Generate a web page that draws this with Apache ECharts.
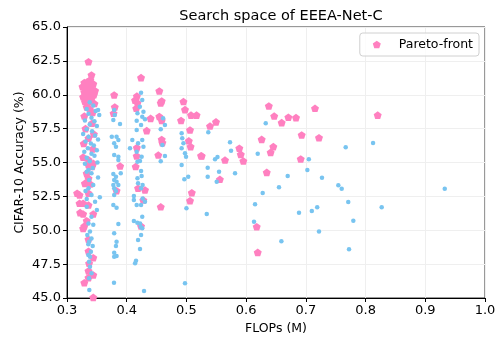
<!DOCTYPE html>
<html>
<head>
<meta charset="utf-8">
<script src="https://cdn.jsdelivr.net/npm/echarts@6/dist/echarts.min.js"></script>
<style>
html,body{margin:0;padding:0;background:#fff;}
#chart{width:499px;height:341px;}
</style>
</head>
<body>
<div id="chart"></div>
<script>
const chartTitle = 'Search space of EEEA-Net-C';
const xAxisName = 'FLOPs (M)';
const yAxisName = 'CIFAR-10 Accuracy (%)';
const legendLabel = 'Pareto-front';

// [FLOPs (M), accuracy (%)] of all sampled architectures
const searchSpace = [
  [0.338,59.45],[0.344,59.2],[0.333,58.95],[0.348,58.8],[0.352,58.87],[0.354,58.5],[0.336,58.6],[0.341,58.3],[0.330,58.1],[0.346,58.05],
  [0.338,57.8],[0.350,57.7],[0.333,57.45],[0.342,57.3],[0.327,57.1],[0.347,57.0],[0.336,56.9],[0.352,56.7],[0.331,56.55],[0.340,56.4],
  [0.345,56.25],[0.335,56.05],[0.350,55.9],[0.329,55.8],[0.341,55.65],[0.346,55.5],[0.333,55.35],[0.338,55.1],[0.351,55.0],[0.330,54.9],
  [0.343,54.6],[0.336,54.45],[0.333,54.32],[0.341,54.2],[0.352,53.9],[0.337,53.7],[0.344,53.34],[0.336,53.1],[0.331,52.9],[0.355,52.43],
  [0.341,52.6],[0.347,52.1],[0.333,52.3],[0.350,51.5],[0.333,51.73],[0.341,51.0],[0.336,50.5],[0.344,50.4],[0.3385,49.9],[0.334,49.65],
  [0.341,49.4],[0.337,49.16],[0.343,48.84],[0.3357,48.96],[0.340,48.42],[0.3357,48.17],[0.3385,48.05],[0.337,47.68],[0.3385,47.31],[0.341,46.82],
  [0.337,46.45],[0.3374,45.59],
  [0.379,58.87],[0.380,58.5],[0.3776,58.14],[0.3888,57.84],[0.375,56.9],[0.383,56.9],[0.379,56.42],[0.382,56.17],[0.379,55.55],[0.386,55.43],
  [0.386,56.66],[0.386,55.18],[0.3776,54.15],[0.382,53.95],[0.390,54.2],[0.379,53.7],[0.383,53.58],[0.3776,53.34],[0.386,53.34],[0.379,53.1],
  [0.382,52.9],[0.379,52.6],[0.3776,51.86],[0.383,51.66],[0.386,50.46],[0.379,49.77],[0.383,49.16],[0.382,48.84],[0.379,48.34],[0.383,48.1],
  [0.379,48.05],[0.3787,46.13],
  [0.424,60.15],[0.426,59.61],[0.422,59.12],[0.428,58.75],[0.418,58.63],[0.426,58.38],[0.4306,58.19],[0.4167,58.09],[0.424,57.77],[0.4167,57.4],
  [0.4094,56.66],[0.426,56.66],[0.419,56.42],[0.428,56.17],[0.4167,55.8],[0.425,55.43],[0.418,55.06],[0.4055,56.05],[0.4223,55.11],[0.424,54.37],
  [0.425,54.0],[0.418,53.83],[0.419,53.46],[0.4266,53.34],[0.424,53.1],[0.412,52.53],[0.412,52.23],[0.4266,52.35],[0.4306,52.1],[0.4167,51.86],
  [0.424,51.86],[0.426,51.0],[0.412,50.68],[0.4178,50.56],[0.4223,50.5],[0.4234,50.26],[0.426,50.14],[0.424,49.65],[0.419,49.28],[0.4223,48.62],
  [0.4156,47.75],[0.414,47.56],[0.429,45.52],
  [0.461,58.26],[0.464,57.77],[0.457,57.45],[0.4597,56.29],[0.464,55.48],[0.457,55.1],[0.492,57.15],[0.493,56.79],[0.495,56.42],[0.492,56.05],
  [0.4976,55.68],[0.4993,55.43],[0.492,54.82],[0.4965,53.76],[0.503,53.95],[0.5,51.62],[0.4976,46.08],
  [0.5366,57.23],[0.6328,57.89],[0.573,56.49],[0.5747,55.87],[0.5479,55.24],[0.552,55.4],[0.6194,55.65],[0.705,55.24],[0.7667,56.12],[0.8125,56.44],
  [0.5356,54.62],[0.5546,54.32],[0.5356,53.95],[0.5507,53.58],[0.5814,54.2],[0.6696,54.0],[0.7025,54.45],[0.727,53.88],[0.7544,53.32],[0.760,53.07],
  [0.655,53.18],[0.6277,52.75],[0.771,52.08],[0.6149,51.91],[0.534,51.2],[0.6885,51.3],[0.710,51.42],[0.719,51.69],[0.6132,50.63],[0.722,49.9],
  [0.659,49.18],[0.7723,48.6],[0.7795,50.71],[0.827,51.69],[0.9326,53.07]
];

// [FLOPs (M), accuracy (%)] of Pareto-front architectures
const paretoFront = [
  [0.336,62.44],[0.341,61.46],[0.339,61.1],[0.329,60.9],[0.334,60.95],[0.344,60.8],[0.326,60.6],[0.331,60.5],[0.337,60.65],[0.342,60.4],
  [0.347,60.3],[0.329,60.2],[0.334,60.25],[0.339,60.05],[0.345,60.0],[0.327,59.85],[0.332,59.8],[0.337,59.7],[0.342,59.85],[0.330,59.5],
  [0.335,59.4],[0.340,59.55],[0.346,59.35],[0.333,59.1],[0.338,58.95],[0.329,58.43],[0.343,58.7],[0.342,57.9],[0.331,57.5],[0.345,57.1],
  [0.336,56.8],[0.328,56.4],[0.343,56.0],[0.327,55.4],[0.336,55.2],[0.342,54.7],
  [0.344,54.94],[0.336,54.82],[0.333,54.2],[0.336,53.83],[0.330,53.46],[0.339,53.41],[0.317,52.73],[0.321,52.6],[0.336,52.73],[0.321,51.99],
  [0.327,51.99],[0.336,51.86],[0.322,51.3],[0.327,51.2],[0.344,51.2],[0.333,50.7],[0.329,50.31],[0.327,50.14],[0.336,49.33],[0.336,48.45],
  [0.344,47.97],[0.337,47.56],[0.336,47.0],[0.344,46.7],[0.336,46.5],[0.329,46.13],[0.344,45.05],
  [0.379,59.98],[0.380,59.1],[0.378,58.63],[0.389,54.74],[0.383,52.92],
  [0.424,61.26],[0.417,59.9],[0.414,59.6],[0.418,59.4],[0.416,59.0],[0.440,58.26],[0.4335,57.35],[0.417,56.1],[0.4167,55.48],[0.415,54.7],
  [0.419,53.1],[0.4306,52.97],[0.4278,52.23],[0.424,50.31],
  [0.4546,60.28],[0.4586,59.54],[0.457,59.4],[0.4546,58.4],[0.4586,58.1],[0.4586,56.7],[0.4597,56.46],[0.4529,55.55],[0.457,51.73],
  [0.495,59.5],[0.4976,58.9],[0.5077,58.5],[0.517,58.5],[0.491,58.1],[0.506,57.4],[0.504,56.6],[0.507,56.17],[0.5245,55.5],[0.509,52.77],[0.506,52.18],
  [0.5395,57.69],[0.5495,58.0],[0.638,59.17],[0.647,58.43],[0.6595,57.94],[0.6707,58.34],[0.6835,58.31],[0.7153,59.0],[0.626,56.71],[0.6455,56.17],
  [0.641,55.75],[0.693,57.03],[0.722,56.83],[0.5886,56.05],[0.591,55.6],[0.5953,55.11],[0.5646,55.18],[0.5256,55.48],[0.6914,55.26],[0.8203,58.5],
  [0.6345,54.27],[0.556,53.76],[0.6177,50.26],[0.6194,48.37]
];

const PENTAGON = 'path://M0,-1L0.951,-0.309L0.588,0.809L-0.588,0.809L-0.951,-0.309Z';
const FONT = 'DejaVu Sans';

const chart = echarts.init(document.getElementById('chart'), null, {renderer: 'canvas'});
chart.setOption({
  backgroundColor: '#fff',
  animation: false,
  textStyle: {fontFamily: FONT},
  title: {
    text: chartTitle, left: 276, textAlign: 'center', top: 4,
    textStyle: {fontFamily: FONT, fontSize: 14.5, fontWeight: 'normal', color: '#000'}
  },
  legend: {
    data: [legendLabel],
    right: 20, top: 33,
    orient: 'vertical',
    icon: PENTAGON,
    itemWidth: 8, itemHeight: 8,
    padding: [5, 6, 5, 13],
    borderColor: '#d0d0d0', borderWidth: 1, borderRadius: 3,
    backgroundColor: 'rgba(255,255,255,0.8)',
    textStyle: {fontFamily: FONT, fontSize: 12.5, color: '#000', padding: [0, 0, 0, 13]}
  },
  grid: {
    left: 67, right: 14, top: 27, bottom: 43,
    show: true, borderColor: '#333', borderWidth: 1, backgroundColor: 'transparent'
  },
  xAxis: {
    type: 'value', min: 0.3, max: 1.0, interval: 0.1,
    name: xAxisName, nameLocation: 'middle', nameGap: 24,
    nameTextStyle: {fontFamily: FONT, fontSize: 12.5, color: '#000'},
    axisLine: {show: true, onZero: false, lineStyle: {color: '#000', width: 1}},
    axisTick: {show: true, length: 4, lineStyle: {color: '#000'}},
    axisLabel: {fontFamily: FONT, fontSize: 13, color: '#000', margin: 6, formatter: v => v.toFixed(1)},
    splitLine: {show: true, lineStyle: {color: '#efefef', width: 1}}
  },
  yAxis: {
    type: 'value', min: 45, max: 65, interval: 2.5,
    name: yAxisName, nameLocation: 'middle', nameGap: 41, nameMoveOverlap: false,
    nameTextStyle: {fontFamily: FONT, fontSize: 12.5, color: '#000'},
    axisLine: {show: true, onZero: false, lineStyle: {color: '#000', width: 1}},
    axisTick: {show: true, length: 4, lineStyle: {color: '#000'}},
    axisLabel: {fontFamily: FONT, fontSize: 13, color: '#000', margin: 6, formatter: v => v.toFixed(1)},
    splitLine: {show: true, lineStyle: {color: '#efefef', width: 1}}
  },
  series: [
    {
      name: legendLabel, type: 'scatter', data: paretoFront,
      symbol: PENTAGON, symbolSize: 8, symbolKeepAspect: true,
      itemStyle: {color: '#ff80c0', opacity: 1}, z: 2
    },
    {
      name: 'searchSpace', type: 'scatter', data: searchSpace,
      symbol: 'circle', symbolSize: 4.5,
      itemStyle: {color: '#78c4f0', opacity: 1}, z: 3
    }
  ]
});
</script>
</body>
</html>
